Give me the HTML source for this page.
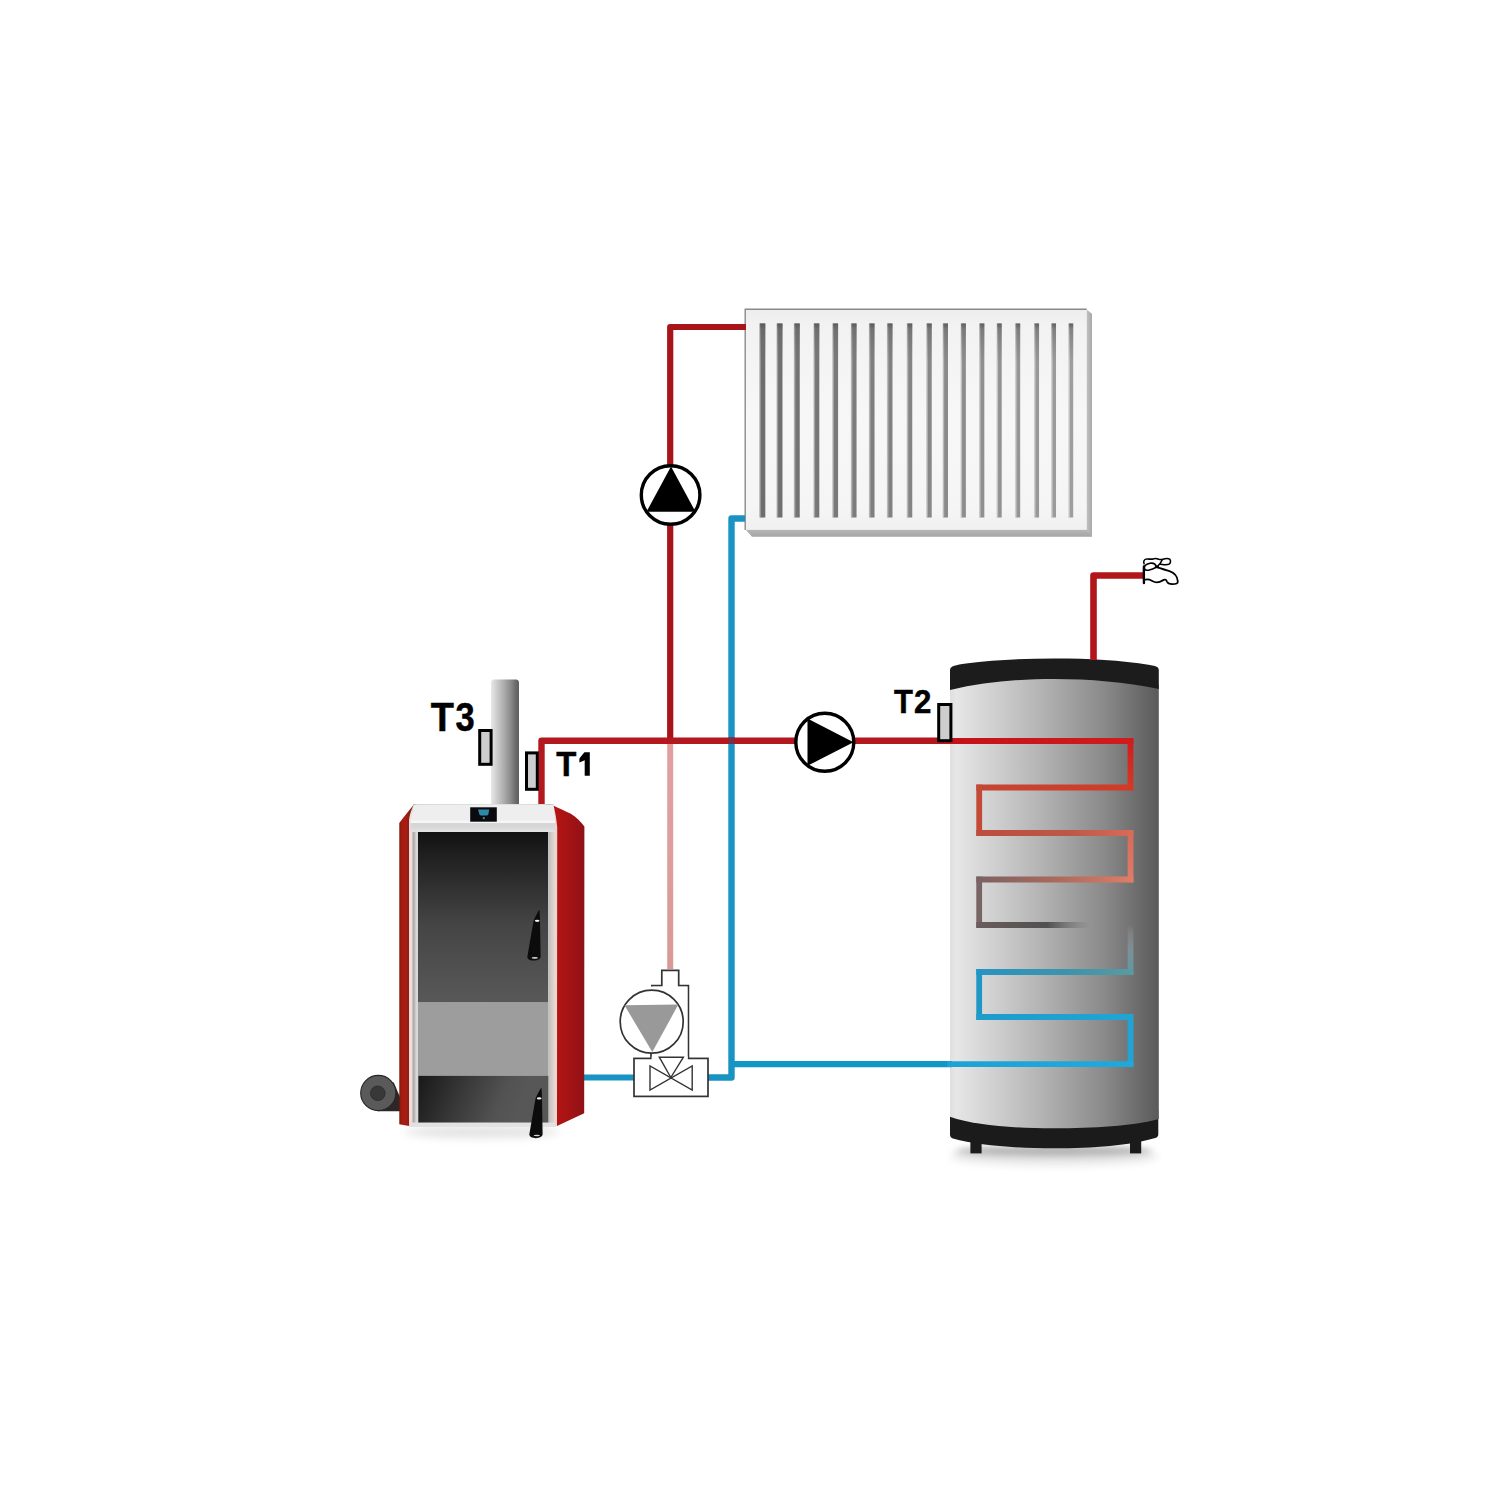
<!DOCTYPE html>
<html>
<head>
<meta charset="utf-8">
<style>
html,body{margin:0;padding:0;background:#ffffff;}
body{width:1500px;height:1500px;overflow:hidden;font-family:"Liberation Sans", sans-serif;}
svg{display:block;}
</style>
</head>
<body>
<svg width="1500" height="1500" viewBox="0 0 1500 1500">
<defs>
  <linearGradient id="tankBody" x1="950" y1="0" x2="1159" y2="0" gradientUnits="userSpaceOnUse">
    <stop offset="0" stop-color="#dfdfdf"/>
    <stop offset="0.03" stop-color="#e6e6e6"/>
    <stop offset="0.25" stop-color="#cbcbcb"/>
    <stop offset="0.5" stop-color="#ababab"/>
    <stop offset="0.75" stop-color="#888888"/>
    <stop offset="0.9" stop-color="#6c6c6c"/>
    <stop offset="1" stop-color="#5a5a5a"/>
  </linearGradient>
  <filter id="blur4" x="-20%" y="-100%" width="140%" height="300%"><feGaussianBlur stdDeviation="4"/></filter>
  <filter id="blur3" x="-20%" y="-150%" width="140%" height="400%"><feGaussianBlur stdDeviation="3"/></filter>
  <linearGradient id="chim" x1="490" y1="0" x2="519" y2="0" gradientUnits="userSpaceOnUse">
    <stop offset="0" stop-color="#ececec"/>
    <stop offset="0.2" stop-color="#d2d2d2"/>
    <stop offset="0.48" stop-color="#acacac"/>
    <stop offset="0.72" stop-color="#8a8a8a"/>
    <stop offset="0.88" stop-color="#6c6c6c"/>
    <stop offset="1" stop-color="#5e5e5e"/>
  </linearGradient>
  <linearGradient id="door" x1="0" y1="832" x2="0" y2="1002" gradientUnits="userSpaceOnUse">
    <stop offset="0" stop-color="#111111"/>
    <stop offset="0.1" stop-color="#1c1c1c"/>
    <stop offset="0.55" stop-color="#454545"/>
    <stop offset="0.9" stop-color="#545454"/>
    <stop offset="1" stop-color="#585858"/>
  </linearGradient>
  <linearGradient id="ash" x1="420" y1="1078" x2="515" y2="1118" gradientUnits="userSpaceOnUse">
    <stop offset="0" stop-color="#1a1a1a"/>
    <stop offset="0.45" stop-color="#3a3a3a"/>
    <stop offset="0.8" stop-color="#525252"/>
    <stop offset="1" stop-color="#575757"/>
  </linearGradient>
  <linearGradient id="redR" x1="556" y1="0" x2="585" y2="0" gradientUnits="userSpaceOnUse">
    <stop offset="0" stop-color="#b41412"/>
    <stop offset="0.35" stop-color="#a81414"/>
    <stop offset="0.75" stop-color="#9a1216"/>
    <stop offset="1" stop-color="#8c1218"/>
  </linearGradient>
  <linearGradient id="redL" x1="399.3" y1="0" x2="409" y2="0" gradientUnits="userSpaceOnUse">
    <stop offset="0" stop-color="#7a1808"/>
    <stop offset="0.2" stop-color="#a01c10"/>
    <stop offset="0.6" stop-color="#ac1c14"/>
    <stop offset="1" stop-color="#8a2014"/>
  </linearGradient>
  <linearGradient id="frame" x1="409" y1="0" x2="558" y2="0" gradientUnits="userSpaceOnUse">
    <stop offset="0" stop-color="#f2d0d0"/>
    <stop offset="0.015" stop-color="#f0e4e0"/>
    <stop offset="0.03" stop-color="#b0aaa8"/>
    <stop offset="0.05" stop-color="#d8d8d8"/>
    <stop offset="0.5" stop-color="#e0e0e0"/>
    <stop offset="0.9" stop-color="#dcdcd8"/>
    <stop offset="0.94" stop-color="#c0c0bc"/>
    <stop offset="0.98" stop-color="#ead8d4"/>
    <stop offset="1" stop-color="#f8d0d0"/>
  </linearGradient>
  <linearGradient id="frameBev" x1="0" y1="823" x2="0" y2="832" gradientUnits="userSpaceOnUse">
    <stop offset="0" stop-color="#d8d8d8"/>
    <stop offset="0.3" stop-color="#d6d6d6"/>
    <stop offset="1" stop-color="#e2e2e2"/>
  </linearGradient>
  <linearGradient id="pink" x1="0" y1="744" x2="0" y2="970" gradientUnits="userSpaceOnUse">
    <stop offset="0" stop-color="#e49c9c"/>
    <stop offset="0.1" stop-color="#e0a0a0"/>
    <stop offset="1" stop-color="#d99a96"/>
  </linearGradient>
  <linearGradient id="radFace" x1="0" y1="309" x2="0" y2="530" gradientUnits="userSpaceOnUse">
    <stop offset="0" stop-color="#ededed"/>
    <stop offset="0.07" stop-color="#f2f2f2"/>
    <stop offset="0.5" stop-color="#f7f7f7"/>
    <stop offset="0.9" stop-color="#f5f5f5"/>
    <stop offset="1" stop-color="#f0f0f0"/>
  </linearGradient>
  <linearGradient id="slotTop" x1="0" y1="0" x2="0" y2="1">
    <stop offset="0" stop-color="#555555" stop-opacity="0.85"/>
    <stop offset="0.15" stop-color="#666666" stop-opacity="0.5"/>
    <stop offset="1" stop-color="#777777" stop-opacity="0"/>
  </linearGradient>
  <linearGradient id="radBot" x1="0" y1="529" x2="0" y2="537" gradientUnits="userSpaceOnUse">
    <stop offset="0" stop-color="#b8b8b8"/>
    <stop offset="1" stop-color="#a4a4a4"/>
  </linearGradient>
  <linearGradient id="radSide" x1="1086" y1="0" x2="1092" y2="0" gradientUnits="userSpaceOnUse">
    <stop offset="0" stop-color="#c4c4c4"/>
    <stop offset="1" stop-color="#a8a8a8"/>
  </linearGradient>
<linearGradient id="cg1" x1="950" y1="0" x2="1130.5" y2="0" gradientUnits="userSpaceOnUse"><stop offset="0" stop-color="#c4121a" stop-opacity="1"/><stop offset="1" stop-color="#d01c1c" stop-opacity="1"/></linearGradient>
<linearGradient id="cg2" x1="0" y1="741" x2="0" y2="787.5" gradientUnits="userSpaceOnUse"><stop offset="0" stop-color="#d01c1c" stop-opacity="1"/><stop offset="1" stop-color="#d23a26" stop-opacity="1"/></linearGradient>
<linearGradient id="cg3" x1="979.2" y1="0" x2="1130.5" y2="0" gradientUnits="userSpaceOnUse"><stop offset="0" stop-color="#c44634" stop-opacity="1"/><stop offset="1" stop-color="#d23a26" stop-opacity="1"/></linearGradient>
<linearGradient id="cg4" x1="979.2" y1="0" x2="1130.5" y2="0" gradientUnits="userSpaceOnUse"><stop offset="0" stop-color="#bc4e3e" stop-opacity="1"/><stop offset="0.6" stop-color="#bc5848" stop-opacity="1"/><stop offset="1" stop-color="#d86a58" stop-opacity="1"/></linearGradient>
<linearGradient id="cg5" x1="0" y1="833" x2="0" y2="879.5" gradientUnits="userSpaceOnUse"><stop offset="0" stop-color="#d86a58" stop-opacity="1"/><stop offset="1" stop-color="#de7c66" stop-opacity="1"/></linearGradient>
<linearGradient id="cg6" x1="979.2" y1="0" x2="1130.5" y2="0" gradientUnits="userSpaceOnUse"><stop offset="0" stop-color="#7c6262" stop-opacity="1"/><stop offset="0.5" stop-color="#aa6a5c" stop-opacity="1"/><stop offset="1" stop-color="#de7c66" stop-opacity="1"/></linearGradient>
<linearGradient id="cg7" x1="979.2" y1="0" x2="1130.5" y2="0" gradientUnits="userSpaceOnUse"><stop offset="0" stop-color="#6a5c5c" stop-opacity="1"/><stop offset="0.45" stop-color="#505050" stop-opacity="1"/><stop offset="0.52" stop-color="#606060" stop-opacity="0.9"/><stop offset="0.7" stop-color="#8a8a8a" stop-opacity="0.5"/><stop offset="0.73" stop-color="#8a8a8a" stop-opacity="0"/><stop offset="1" stop-color="#555" stop-opacity="0"/></linearGradient>
<linearGradient id="cg8" x1="0" y1="925" x2="0" y2="972" gradientUnits="userSpaceOnUse"><stop offset="0" stop-color="#c8c8c8" stop-opacity="0.0"/><stop offset="0.3" stop-color="#9aa8b0" stop-opacity="0.35"/><stop offset="0.6" stop-color="#7a9aa8" stop-opacity="0.75"/><stop offset="1" stop-color="#5a9aa4" stop-opacity="1"/></linearGradient>
<linearGradient id="cg9" x1="979.2" y1="0" x2="1130.5" y2="0" gradientUnits="userSpaceOnUse"><stop offset="0" stop-color="#2894c0" stop-opacity="1"/><stop offset="0.6" stop-color="#3c94ac" stop-opacity="1"/><stop offset="1" stop-color="#5a9aa0" stop-opacity="1"/></linearGradient>
<linearGradient id="cg10" x1="979.2" y1="0" x2="1130.5" y2="0" gradientUnits="userSpaceOnUse"><stop offset="0" stop-color="#1e9ccc" stop-opacity="1"/><stop offset="1" stop-color="#20a4d6" stop-opacity="1"/></linearGradient>
<linearGradient id="cg11" x1="950" y1="0" x2="1130.5" y2="0" gradientUnits="userSpaceOnUse"><stop offset="0" stop-color="#1ea2d6" stop-opacity="1"/><stop offset="1" stop-color="#20a8dc" stop-opacity="1"/></linearGradient></defs>
<polygon points="745.5,529.5 1086.5,529.5 1092,533 1092,536.7 752,536.7" fill="url(#radBot)"/>
<polygon points="1086.5,309.5 1092,313.7 1092,536.7 1086.5,530" fill="url(#radSide)"/>
<rect x="745.5" y="309.2" width="341" height="220.5" fill="url(#radFace)"/>
<path d="M745.2,530 V309.2 H1086.7" fill="none" stroke="#8a8a8a" stroke-width="1.4"/>
<rect x="759.90" y="323.5" width="5.40" height="194" fill="#6e6e6e"/>
<rect x="759.30" y="323.5" width="1.6" height="194" fill="#a6a6a6" opacity="0.8"/>
<rect x="759.90" y="323.5" width="5.40" height="40" fill="url(#slotTop)"/>
<rect x="777.13" y="323.5" width="5.34" height="194" fill="#707070"/>
<rect x="776.53" y="323.5" width="1.6" height="194" fill="#a8a8a8" opacity="0.8"/>
<rect x="777.13" y="323.5" width="5.34" height="40" fill="url(#slotTop)"/>
<rect x="794.46" y="323.5" width="5.28" height="194" fill="#737373"/>
<rect x="793.86" y="323.5" width="1.6" height="194" fill="#ababab" opacity="0.8"/>
<rect x="794.46" y="323.5" width="5.28" height="40" fill="url(#slotTop)"/>
<rect x="814.09" y="323.5" width="5.22" height="194" fill="#767676"/>
<rect x="813.49" y="323.5" width="1.6" height="194" fill="#aeaeae" opacity="0.8"/>
<rect x="814.09" y="323.5" width="5.22" height="40" fill="url(#slotTop)"/>
<rect x="832.92" y="323.5" width="5.16" height="194" fill="#797979"/>
<rect x="832.32" y="323.5" width="1.6" height="194" fill="#b1b1b1" opacity="0.8"/>
<rect x="832.92" y="323.5" width="5.16" height="40" fill="url(#slotTop)"/>
<rect x="851.45" y="323.5" width="5.10" height="194" fill="#7c7c7c"/>
<rect x="850.85" y="323.5" width="1.6" height="194" fill="#b4b4b4" opacity="0.8"/>
<rect x="851.45" y="323.5" width="5.10" height="40" fill="url(#slotTop)"/>
<rect x="869.48" y="323.5" width="5.04" height="194" fill="#7e7e7e"/>
<rect x="868.88" y="323.5" width="1.6" height="194" fill="#b6b6b6" opacity="0.8"/>
<rect x="869.48" y="323.5" width="5.04" height="40" fill="url(#slotTop)"/>
<rect x="887.51" y="323.5" width="4.98" height="194" fill="#818181"/>
<rect x="886.91" y="323.5" width="1.6" height="194" fill="#b9b9b9" opacity="0.8"/>
<rect x="887.51" y="323.5" width="4.98" height="40" fill="url(#slotTop)"/>
<rect x="907.34" y="323.5" width="4.92" height="194" fill="#848484"/>
<rect x="906.74" y="323.5" width="1.6" height="194" fill="#bcbcbc" opacity="0.8"/>
<rect x="907.34" y="323.5" width="4.92" height="40" fill="url(#slotTop)"/>
<rect x="926.87" y="323.5" width="4.86" height="194" fill="#878787"/>
<rect x="926.27" y="323.5" width="1.6" height="194" fill="#bfbfbf" opacity="0.8"/>
<rect x="926.87" y="323.5" width="4.86" height="40" fill="url(#slotTop)"/>
<rect x="943.20" y="323.5" width="4.80" height="194" fill="#8a8a8a"/>
<rect x="942.60" y="323.5" width="1.6" height="194" fill="#c2c2c2" opacity="0.8"/>
<rect x="943.20" y="323.5" width="4.80" height="40" fill="url(#slotTop)"/>
<rect x="961.13" y="323.5" width="4.74" height="194" fill="#8d8d8d"/>
<rect x="960.53" y="323.5" width="1.6" height="194" fill="#c5c5c5" opacity="0.8"/>
<rect x="961.13" y="323.5" width="4.74" height="40" fill="url(#slotTop)"/>
<rect x="979.66" y="323.5" width="4.68" height="194" fill="#8f8f8f"/>
<rect x="979.06" y="323.5" width="1.6" height="194" fill="#c7c7c7" opacity="0.8"/>
<rect x="979.66" y="323.5" width="4.68" height="40" fill="url(#slotTop)"/>
<rect x="997.09" y="323.5" width="4.62" height="194" fill="#929292"/>
<rect x="996.49" y="323.5" width="1.6" height="194" fill="#cacaca" opacity="0.8"/>
<rect x="997.09" y="323.5" width="4.62" height="40" fill="url(#slotTop)"/>
<rect x="1015.62" y="323.5" width="4.56" height="194" fill="#959595"/>
<rect x="1015.02" y="323.5" width="1.6" height="194" fill="#cdcdcd" opacity="0.8"/>
<rect x="1015.62" y="323.5" width="4.56" height="40" fill="url(#slotTop)"/>
<rect x="1034.55" y="323.5" width="4.50" height="194" fill="#989898"/>
<rect x="1033.95" y="323.5" width="1.6" height="194" fill="#d0d0d0" opacity="0.8"/>
<rect x="1034.55" y="323.5" width="4.50" height="40" fill="url(#slotTop)"/>
<rect x="1051.58" y="323.5" width="4.44" height="194" fill="#9b9b9b"/>
<rect x="1050.98" y="323.5" width="1.6" height="194" fill="#d3d3d3" opacity="0.8"/>
<rect x="1051.58" y="323.5" width="4.44" height="40" fill="url(#slotTop)"/>
<rect x="1068.81" y="323.5" width="4.38" height="194" fill="#9e9e9e"/>
<rect x="1068.21" y="323.5" width="1.6" height="194" fill="#d6d6d6" opacity="0.8"/>
<rect x="1068.81" y="323.5" width="4.38" height="40" fill="url(#slotTop)"/>
<ellipse cx="1054" cy="1156" rx="104" ry="9" fill="#e4e4e4" filter="url(#blur4)"/>
<ellipse cx="1054" cy="1151" rx="98" ry="5" fill="#b4b4b4" filter="url(#blur3)"/>
<path d="M950,1110 V1134.5 Q950,1137.5 953,1138.5 C978,1145.5 1016,1148.3 1054,1148.3 C1093,1148.3 1130,1145.5 1155.3,1138 Q1158.3,1137 1158.3,1134 V1110 Z" fill="#1b1b1b"/>
<rect x="970.4" y="1140" width="11.2" height="13.4" fill="#1b1b1b"/>
<rect x="1130" y="1140" width="11.2" height="13.4" fill="#1b1b1b"/>
<path d="M950,685 Q1054.4,668 1158.8,685 V1119 C1133,1126 1093,1128.3 1054,1128.3 C1015,1128.3 975,1125.5 950,1116.7 Z" fill="url(#tankBody)"/>
<path d="M950,690 V670 C950,666 956,665 966,663.5 C995,659.5 1025,658.5 1054.4,658.5 C1090,658.5 1120,660 1150,665 C1156,666 1158.8,667 1158.8,670 V689 C1125,682 1090,679 1054.4,679 C1018,679 984,682 950,690 Z" fill="#1c1c1c"/>

<g fill="none" stroke-linejoin="round" stroke-linecap="butt">
  <path d="M746,327 H670.2 V741" stroke="#a81519" stroke-width="6.2"/>
  <path d="M670.2,744 V969" stroke="url(#pink)" stroke-width="6"/>
  <path d="M745,518.5 H731.5 V1077.5 H708" stroke="#1993c4" stroke-width="6.4"/>
  <path d="M584,1077.5 H634" stroke="#1993c4" stroke-width="6.2"/>
  <path d="M731.5,1064.2 H952" stroke="#1296c6" stroke-width="6.2"/>
  <path d="M541.5,806 V740.8 H952" stroke="#b2181e" stroke-width="6.4"/>
  <rect x="728.3" y="737.4" width="6.4" height="6.4" fill="#7a2c48"/>
  <path d="M1093.5,660 V575.5 H1144" stroke="#b0161a" stroke-width="6.6"/>
</g>

<path d="M950,741 H1130.5" fill="none" stroke="url(#cg1)" stroke-width="5.8" stroke-linecap="square"/>
<path d="M1130.5,741 V787.5" fill="none" stroke="url(#cg2)" stroke-width="5.8" stroke-linecap="square"/>
<path d="M1130.5,787.5 H979.2" fill="none" stroke="url(#cg3)" stroke-width="5.8" stroke-linecap="square"/>
<path d="M979.2,787.5 V833" fill="none" stroke="#c44a38" stroke-width="5.8" stroke-linecap="square"/>
<path d="M979.2,833 H1130.5" fill="none" stroke="url(#cg4)" stroke-width="5.8" stroke-linecap="square"/>
<path d="M1130.5,833 V879.5" fill="none" stroke="url(#cg5)" stroke-width="5.8" stroke-linecap="square"/>
<path d="M1130.5,879.5 H979.2" fill="none" stroke="url(#cg6)" stroke-width="5.8" stroke-linecap="square"/>
<path d="M979.2,879.5 V925" fill="none" stroke="#786464" stroke-width="5.8" stroke-linecap="square"/>
<path d="M979.2,925 H1130.5" fill="none" stroke="url(#cg7)" stroke-width="5.8" stroke-linecap="square"/>
<path d="M1130.5,925 V972" fill="none" stroke="url(#cg8)" stroke-width="5.8" stroke-linecap="square"/>
<path d="M1130.5,972 H979.2" fill="none" stroke="url(#cg9)" stroke-width="5.8" stroke-linecap="square"/>
<path d="M979.2,972 V1017" fill="none" stroke="#2096c6" stroke-width="5.8" stroke-linecap="square"/>
<path d="M979.2,1017 H1130.5 V1064.2" fill="none" stroke="url(#cg10)" stroke-width="5.8" stroke-linecap="square"/>
<path d="M1130.5,1064.2 H950" fill="none" stroke="url(#cg11)" stroke-width="5.8" stroke-linecap="square"/>
<circle cx="670.6" cy="495" r="29.3" fill="#fff" stroke="#000" stroke-width="3.4"/>
<polygon points="671,466.5 646.5,511.8 695.5,511.8" fill="#000"/>
<circle cx="824.8" cy="742.2" r="29" fill="#fff" stroke="#000" stroke-width="3.4"/>
<polygon points="807.5,718.5 807.5,765.8 853.5,742.2" fill="#000"/>
<rect x="634" y="1058.4" width="74" height="38" fill="#fff" stroke="#333333" stroke-width="1.7"/>
<path d="M651,1053 V1058.4" fill="none" stroke="#333333" stroke-width="1.7"/>
<path d="M688.4,1058.4 V985.6 H678.7 V970.4 H661.8 V985.6 H651" fill="none" stroke="#333333" stroke-width="1.7"/>
<rect x="652.8" y="986.6" width="34.6" height="71" fill="#fff"/>
<circle cx="651.7" cy="1021.7" r="31.5" fill="#fff" stroke="#333333" stroke-width="1.7"/>
<polygon points="624.5,1005.2 678.3,1004.6 652.3,1052.1" fill="#999"/>
<rect x="651.6" y="1056.6" width="36.2" height="3.4" fill="#fff"/>
<path d="M650,1066 V1090 L692.2,1066 V1090 Z" fill="none" stroke="#333333" stroke-width="1.4"/>
<path d="M659.3,1057.2 H683.4 L670.8,1077.5 Z" fill="none" stroke="#333333" stroke-width="1.4"/>
<ellipse cx="482" cy="1132" rx="78" ry="6" fill="#e2e2e2" filter="url(#blur4)"/>
<path d="M378,1111.3 H400 V1097 L393.5,1082 Z" fill="#2e2626"/>
<circle cx="378.3" cy="1093" r="17.6" fill="#5a5a5a" stroke="#262626" stroke-width="1.1"/>
<circle cx="377.8" cy="1093.3" r="7.3" fill="#383838" stroke="#2a2a2a" stroke-width="0.8"/>
<path d="M491,806 V683 Q491,679.5 494,679.5 H516 Q519,679.5 519,683 V806 Z" fill="url(#chim)"/>
<polygon points="413.5,804 553.6,804 557.5,827 557.5,1125 555,1127 409,1127 409,820" fill="url(#frame)"/>
<path d="M413.5,805 H553.8 L555,821.5 H410.5 Z" fill="#eeeeee"/>
<rect x="410.5" y="820.5" width="144.5" height="2.5" fill="#f6f6f6"/>
<rect x="410.5" y="823" width="144.5" height="9" fill="url(#frameBev)"/>
<rect x="410.5" y="1122.5" width="145" height="4.5" fill="#e2e2e2"/>
<path d="M413.5,804.9 C411.5,809.5 409.8,814.5 409,820 L409,1126 L399.3,1124.2 L399.3,823 C404,816.5 409,810.5 413.5,804.9 Z" fill="url(#redL)"/>
<path d="M553.6,805.8 C560,809 566.5,811.5 570.4,813.6 C576,817 581,822 584.4,826.6 L584.2,1113.3 L557,1126 L557.2,827 C556.3,818 554.8,810.5 553.6,805.8 Z" fill="url(#redR)"/>
<rect x="418" y="832" width="130" height="170.5" fill="url(#door)"/>
<rect x="418" y="1002.5" width="130" height="73.3" fill="#9d9d9d"/>
<rect x="418.3" y="1075.8" width="130" height="46.7" fill="url(#ash)"/>
<rect x="470.2" y="807.3" width="26.6" height="14.4" fill="#0a0a0e"/>
<path d="M478,809.6 H489.2 L488.4,814.2 C488,815.3 487,815.6 486,815.6 H481.6 C480.6,815.6 479.8,815.3 479.4,814.2 Z" fill="#2c8aa8"/>
<circle cx="483.8" cy="818.2" r="1.1" fill="#4a8c9a"/>
<path d="M539.4,909.8 C539.8,914 540,918 540,921.5 L540.6,956.5 C540.8,961.8 527.6,962 527.3,957 L533.4,921.5 C535,917 537.5,912.5 539.4,909.8 Z" fill="#0c0c0c"/>
<ellipse cx="537.2" cy="920.8" rx="2.4" ry="1.1" fill="#f0f0f0"/>
<ellipse cx="534.8" cy="957.9" rx="3.2" ry="0.8" fill="#d8d8d8"/>
<g transform="translate(2,177.6)"><path d="M539.4,909.8 C539.8,914 540,918 540,921.5 L540.6,956.5 C540.8,961.8 527.6,962 527.3,957 L533.4,921.5 C535,917 537.5,912.5 539.4,909.8 Z" fill="#0c0c0c"/><ellipse cx="537.2" cy="920.8" rx="2.4" ry="1.1" fill="#f0f0f0"/><ellipse cx="534.8" cy="957.9" rx="3.2" ry="0.8" fill="#d8d8d8"/></g>
<rect x="479.7" y="730.5" width="11.4" height="33.8" fill="#cdcdcd" stroke="#000" stroke-width="3"/>
<rect x="526.5" y="752.9" width="10.8" height="36.4" fill="#cdcdcd" stroke="#000" stroke-width="3"/>
<rect x="938.7" y="704.5" width="12.2" height="36.2" fill="#cdcdcd" stroke="#000" stroke-width="3"/>
<text transform="translate(430.8,730.9) scale(0.94,1)" font-size="40.3" font-family="'Liberation Sans', sans-serif" font-weight="bold" fill="#000" stroke="#000" stroke-width="0.5">T</text>
<text transform="translate(455.6,730.9) scale(0.855,1)" font-size="40.3" font-family="'Liberation Sans', sans-serif" font-weight="bold" fill="#000" stroke="#000" stroke-width="0.5">3</text>
<text transform="translate(556.3,775.8) scale(0.95,1)" font-size="34.6" font-family="'Liberation Sans', sans-serif" font-weight="bold" fill="#000" stroke="#000" stroke-width="0.5">T</text>
<polygon points="584.7,752.2 589.8,752.2 589.8,775.8 584.7,775.8 584.7,760.3 579.4,762.6 579.4,758.4 584.2,752.6" fill="#000"/>
<text transform="translate(893.96,712.5) scale(0.92,1)" font-size="33.6" font-family="'Liberation Sans', sans-serif" font-weight="bold" fill="#000" stroke="#000" stroke-width="0.5">T</text>
<text transform="translate(914.0,712.5) scale(0.93,1)" font-size="33.6" font-family="'Liberation Sans', sans-serif" font-weight="bold" fill="#000" stroke="#000" stroke-width="0.5">2</text>
<g transform="translate(1140,554) scale(0.02333)" fill="none" stroke="#000" stroke-width="68" stroke-linejoin="round" stroke-linecap="round">
<path d="M175,420 C140,330 160,225 290,215 C400,210 480,235 560,210 C640,180 720,190 800,225 C860,245 920,240 980,225 C1080,190 1180,160 1270,220 C1330,270 1320,400 1230,440 C1130,480 1000,450 880,440"/>
<path d="M960,235 C920,330 870,440 720,560"/>
<path d="M720,560 C660,430 560,370 430,400 C280,435 190,480 185,580 C180,680 270,720 400,690 C520,660 620,610 720,560 Z"/>
<path d="M690,545 L760,560" stroke-width="110"/>
</g>
<g transform="translate(1140,563) scale(0.028)" fill="none" stroke="#000" stroke-width="64" stroke-linejoin="round" stroke-linecap="round">
<path d="M600,150 C750,200 900,250 1050,290 C1250,360 1340,500 1350,650 C1355,730 1300,755 1150,755 C1030,755 990,730 960,660 C940,600 900,580 850,600 C780,640 720,690 600,695 C480,695 420,620 330,590 C280,575 240,580 200,590"/>
<path d="M140,120 C135,300 140,600 140,715" stroke-width="85"/>
</g>
</svg>
</body>
</html>
